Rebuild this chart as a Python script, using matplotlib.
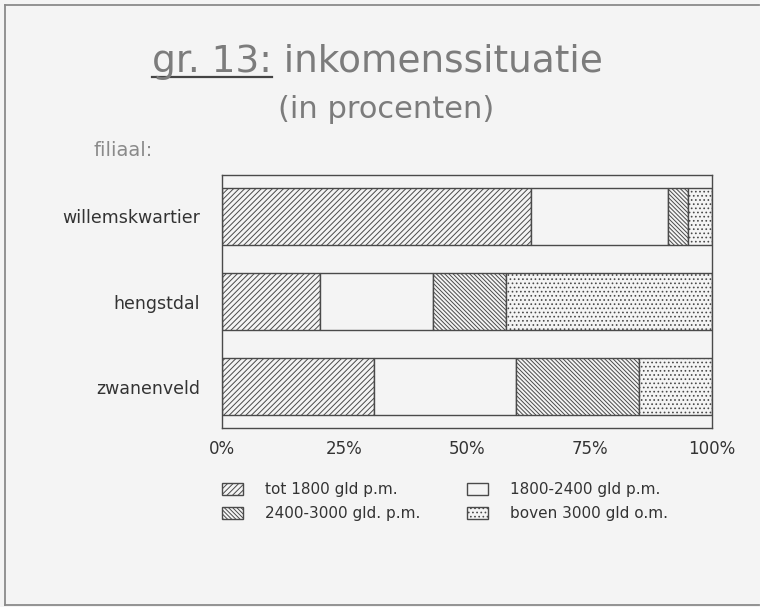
import matplotlib
matplotlib.use("Agg")
import matplotlib.pyplot as plt
from matplotlib.patches import Patch
from matplotlib.lines import Line2D
import numpy as np

# data (percentages per filiaal)
filialen = ["willemskwartier", "hengstdal", "zwanenveld"]
tot_1800 = [63, 20, 31]
v1800_2400 = [28, 23, 29]
v2400_3000 = [4, 15, 25]
boven_3000 = [5, 42, 15]
klassen = ["tot 1800 gld p.m.", "1800-2400 gld p.m.",
           "2400-3000 gld. p.m.", "boven 3000 gld o.m."]
ticks = [0, 25, 50, 75, 100]
tick_labels = ["0%", "25%", "50%", "75%", "100%"]

bg = "#f4f4f4"
ink = "#4a4a4a"
plt.rcParams["font.family"] = ["DejaVu Sans"]
plt.rcParams["hatch.color"] = ink
plt.rcParams["hatch.linewidth"] = 0.7

fig = plt.figure(figsize=(7.6, 6.07), dpi=100, facecolor=bg)
ax = fig.add_axes([222 / 760, 1 - 428 / 607, 490 / 760, 253 / 607])
ax.set_facecolor(bg)

series = [tot_1800, v1800_2400, v2400_3000, boven_3000]
hatches = ["//////", "", "\\" * 8, "...."]
ypos = np.arange(len(filialen))[::-1]
left = np.zeros(len(filialen))
for vals, h in zip(series, hatches):
    ax.barh(ypos, vals, left=left, height=0.67, color=bg, edgecolor=ink,
            hatch=h, linewidth=1.0)
    left += np.array(vals)

ax.set_xlim(0, 100)
ax.set_ylim(-0.488, 2.488)
ax.set_xticks(ticks)
ax.set_xticklabels(tick_labels, fontsize=12, color="#333333")
ax.set_yticks(ypos)
ax.set_yticklabels(filialen, fontsize=12.5, color="#333333")
ax.tick_params(length=0)
ax.tick_params(axis="x", pad=9)
ax.tick_params(axis="y", pad=16)
for s in ax.spines.values():
    s.set_color(ink)
    s.set_linewidth(1.0)

# titles
tkw = dict(color="#7c7c7c")
title = fig.text(0.497, 1 - 72 / 607, "gr. 13: inkomenssituatie", ha="center",
                 va="baseline", fontsize=27, **tkw)
fig.text(0.508, 1 - 118 / 607, "(in procenten)", ha="center", va="baseline",
         fontsize=22, **tkw)
fig.text(93 / 760, 1 - 150 / 607, "filiaal:", ha="left", va="center",
         fontsize=14, color="#8a8a8a")

fig.canvas.draw()
r = fig.canvas.get_renderer()
bb = title.get_window_extent(r)
tmp = fig.text(0, 0, "gr. 13:", fontsize=27, **tkw)
w = tmp.get_window_extent(r).width
tmp.remove()
base = 1 - 77 / 607
fig.add_artist(Line2D([bb.x0 / 760, (bb.x0 + w) / 760], [base, base],
                      color="#444444", lw=1.6))

# legend: row-wise order
handles = [Patch(facecolor=bg, edgecolor=ink, hatch=h) for h in hatches]
order = [0, 2, 1, 3]
fig.legend([handles[i] for i in order], [klassen[i] for i in order],
           ncol=2, loc="upper left", bbox_to_anchor=(222 / 760, 1 - 482 / 607),
           frameon=False, fontsize=11, borderpad=0, borderaxespad=0,
           handlelength=1.4, handleheight=0.8, handletextpad=1.4,
           columnspacing=3.05, labelspacing=0.62, labelcolor="#333333")

# page border (left, top, bottom)
for xs, ys in [([5 / 760, 5 / 760], [2 / 607, 1 - 5 / 607]),
               ([5 / 760, 0.999], [1 - 5 / 607, 1 - 5 / 607]),
               ([5 / 760, 0.999], [2 / 607, 2 / 607])]:
    fig.add_artist(Line2D(xs, ys, color="#8a8a8a", lw=1.3))

fig.savefig("out.png", dpi=100, facecolor=bg)
